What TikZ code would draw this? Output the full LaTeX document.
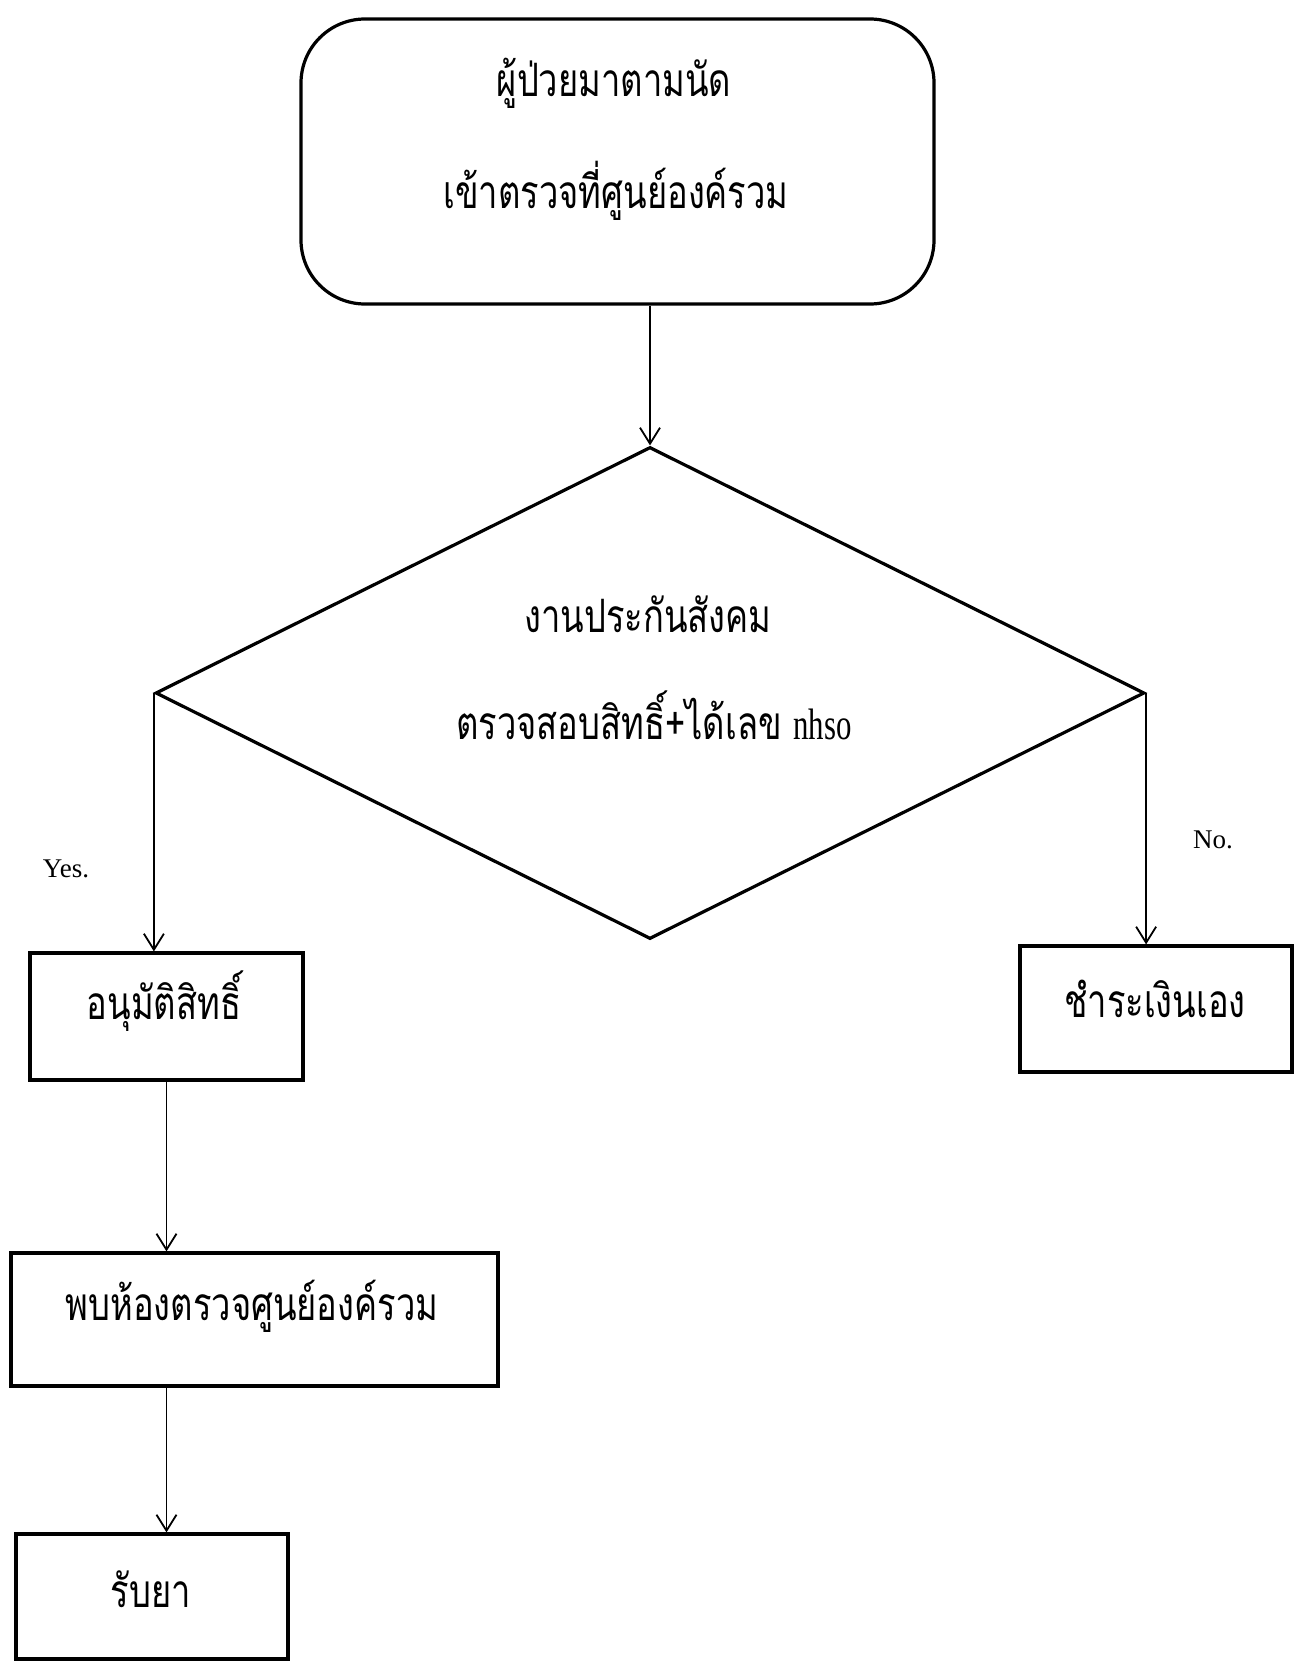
\documentclass[tikz,border=0pt]{standalone}
\usepackage{fontspec}
\setmainfont{Liberation Serif}
\newfontfamily\thai[Script=Thai,FakeStretch=0.75]{Loma}
\newfontfamily\latc[FakeStretch=0.7]{Liberation Serif}
\usetikzlibrary{shapes.geometric,arrows.meta}
\begin{document}
\begin{tikzpicture}[x=1pt,y=-1pt,
  boxthick/.style={draw,line width=3.2pt,inner sep=0pt},
  procbox/.style={boxthick,rectangle},
  lbl/.style={inner sep=0pt,font=\thai\fontsize{46}{50}\selectfont},
  conn/.style={line width=1.8pt,-{Straight Barb[length=16pt,width=20pt,line width=1.8pt]}}
]
\useasboundingbox[fill=white] (0,0) rectangle (1303,1661);

\node[boxthick,rectangle,rounded corners=64pt,minimum width=633pt,minimum height=285pt] (top) at (617.5,161.5) {};
\node[lbl] (top1) at (614,83) {ผู้ป่วยมาตามนัด};
\node[lbl] (top2) at (616,191) {เข้าตรวจที่ศูนย์องค์รวม};

\node[boxthick,diamond,minimum width=989pt,minimum height=492pt] (dia) at (650,693) {};
\node[lbl] (dia1) at (648,614) {งานประกันสังคม};
\node[lbl] (dia2) at (654,715) {ตรวจสอบสิทธิ์+ได้เลข {\latc\fontsize{44}{48}\selectfont nhso}};

\node[procbox,minimum width=273pt,minimum height=127pt] (yes) at (166.5,1016.5) {};
\node[lbl] (yest) at (164,1001) {อนุมัติสิทธิ์};

\node[procbox,minimum width=272pt,minimum height=126pt] (no) at (1156,1009) {};
\node[lbl] (not) at (1155,999) {ชำระเงินเอง};

\node[procbox,minimum width=487pt,minimum height=133pt] (chk) at (254.5,1319.5) {};
\node[lbl] (chkt) at (252,1306) {พบห้องตรวจศูนย์องค์รวม};

\node[procbox,minimum width=272pt,minimum height=125pt] (med) at (152,1596.5) {};
\node[lbl] (medt) at (151,1589) {รับยา};

\node[inner sep=0pt,font=\fontsize{27}{30}\selectfont] (yl) at (66,869) {Yes.};
\node[inner sep=0pt,font=\fontsize{27}{30}\selectfont] (nl) at (1213,840) {No.};

\draw[conn] (dia.north |- top.south) -- (dia.north);
\draw[conn] (dia.west) -- (dia.west |- yes.north);
\draw[conn] (dia.east) -- (dia.east |- no.north);
\draw[conn] (yes.south) -- (yes.south |- chk.north);
\draw[conn] (yes.south |- chk.south) -- (yes.south |- med.north);
\end{tikzpicture}
\end{document}
